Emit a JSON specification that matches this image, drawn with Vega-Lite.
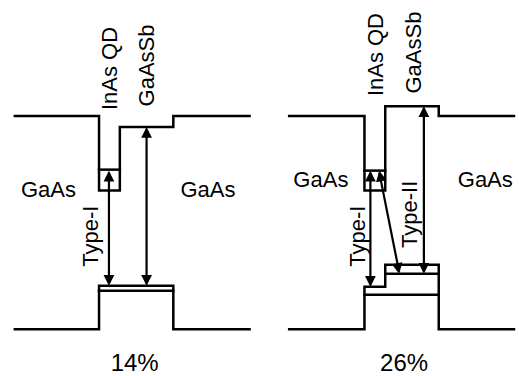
{
  "$schema": "https://vega.github.io/schema/vega-lite/v6.json",
  "width": 519,
  "height": 376,
  "padding": 0,
  "autosize": {"type": "fit", "contains": "padding"},
  "background": "white",
  "config": {"view": {"stroke": null}},
  "datasets": {
    "bands": [
      {"path": "L_CB", "i": 1, "x": 15, "y": 117}, {"path": "L_CB", "i": 2, "x": 100, "y": 117}, {"path": "L_CB", "i": 3, "x": 100, "y": 192}, {"path": "L_CB", "i": 4, "x": 121, "y": 192}, {"path": "L_CB", "i": 5, "x": 121, "y": 128}, {"path": "L_CB", "i": 6, "x": 175, "y": 128}, {"path": "L_CB", "i": 7, "x": 175, "y": 117}, {"path": "L_CB", "i": 8, "x": 252, "y": 117},
      {"path": "L_QD", "i": 1, "x": 100, "y": 171}, {"path": "L_QD", "i": 2, "x": 121, "y": 171},
      {"path": "L_VB", "i": 1, "x": 15, "y": 332}, {"path": "L_VB", "i": 2, "x": 100, "y": 332}, {"path": "L_VB", "i": 3, "x": 100, "y": 288}, {"path": "L_VB", "i": 4, "x": 175, "y": 288}, {"path": "L_VB", "i": 5, "x": 175, "y": 332}, {"path": "L_VB", "i": 6, "x": 252, "y": 332},
      {"path": "L_H", "i": 1, "x": 100, "y": 293}, {"path": "L_H", "i": 2, "x": 175, "y": 293},
      {"path": "R_CB", "i": 1, "x": 292, "y": 117}, {"path": "R_CB", "i": 2, "x": 368, "y": 117}, {"path": "R_CB", "i": 3, "x": 368, "y": 192}, {"path": "R_CB", "i": 4, "x": 389, "y": 192}, {"path": "R_CB", "i": 5, "x": 389, "y": 107}, {"path": "R_CB", "i": 6, "x": 443, "y": 107}, {"path": "R_CB", "i": 7, "x": 443, "y": 117}, {"path": "R_CB", "i": 8, "x": 519, "y": 117},
      {"path": "R_QD", "i": 1, "x": 368, "y": 172}, {"path": "R_QD", "i": 2, "x": 389, "y": 172},
      {"path": "R_VB", "i": 1, "x": 292, "y": 332}, {"path": "R_VB", "i": 2, "x": 368, "y": 332}, {"path": "R_VB", "i": 3, "x": 368, "y": 289}, {"path": "R_VB", "i": 4, "x": 389, "y": 289}, {"path": "R_VB", "i": 5, "x": 389, "y": 267}, {"path": "R_VB", "i": 6, "x": 443, "y": 267}, {"path": "R_VB", "i": 7, "x": 443, "y": 332}, {"path": "R_VB", "i": 8, "x": 519, "y": 332},
      {"path": "R_H1", "i": 1, "x": 389, "y": 276}, {"path": "R_H1", "i": 2, "x": 443, "y": 276},
      {"path": "R_H2", "i": 1, "x": 368, "y": 297}, {"path": "R_H2", "i": 2, "x": 443, "y": 297}
    ],
    "arrows": [
      {"id": "A1", "x": 110, "y": 174, "x2": 110, "y2": 286},
      {"id": "A2", "x": 148, "y": 130, "x2": 148, "y2": 286},
      {"id": "A3", "x": 374, "y": 174, "x2": 374, "y2": 287},
      {"id": "A4", "x": 383, "y": 174, "x2": 403, "y2": 274},
      {"id": "A5", "x": 428, "y": 109, "x2": 428, "y2": 274}
    ],
    "heads": [
      {"x": 110, "y": 172, "dir": "up"}, {"x": 110, "y": 288, "dir": "down"},
      {"x": 148, "y": 128, "dir": "up"}, {"x": 148, "y": 288, "dir": "down"},
      {"x": 374, "y": 172, "dir": "up"}, {"x": 374, "y": 289, "dir": "down"},
      {"x": 383, "y": 172, "dir": "diag-up"}, {"x": 403, "y": 276, "dir": "diag-down"},
      {"x": 428, "y": 107, "dir": "up"}, {"x": 428, "y": 276, "dir": "down"}
    ],
    "hlabels": [
      {"text": "GaAs", "x": 49, "y": 199},
      {"text": "GaAs", "x": 210, "y": 199},
      {"text": "GaAs", "x": 324, "y": 188},
      {"text": "GaAs", "x": 490, "y": 188}
    ],
    "pct": [
      {"text": "14%", "x": 136, "y": 374},
      {"text": "26%", "x": 408, "y": 374}
    ],
    "vlabels": [
      {"text": "InAs QD", "x": 111, "y": 69},
      {"text": "GaAsSb", "x": 148, "y": 66},
      {"text": "Type-I", "x": 92, "y": 238},
      {"text": "InAs QD", "x": 380, "y": 55},
      {"text": "GaAsSb", "x": 418, "y": 53},
      {"text": "Type-I", "x": 361, "y": 238},
      {"text": "Type-II", "x": 414, "y": 216}
    ]
  },
  "layer": [
    {
      "data": {"name": "bands"},
      "mark": {"type": "line", "color": "black", "strokeWidth": 2.5, "strokeJoin": "miter", "strokeCap": "square"},
      "encoding": {
        "x": {"field": "x", "type": "quantitative", "scale": {"domain": [0, 519], "nice": false, "zero": false}, "axis": null},
        "y": {"field": "y", "type": "quantitative", "scale": {"domain": [0, 376], "reverse": true, "nice": false, "zero": false}, "axis": null},
        "detail": {"field": "path", "type": "nominal"},
        "order": {"field": "i", "type": "quantitative"}
      }
    },
    {
      "data": {"name": "arrows"},
      "mark": {"type": "rule", "color": "black", "strokeWidth": 2.2},
      "encoding": {
        "x": {"field": "x", "type": "quantitative"},
        "y": {"field": "y", "type": "quantitative"},
        "x2": {"field": "x2"},
        "y2": {"field": "y2"}
      }
    },
    {
      "data": {"name": "heads"},
      "transform": [{"filter": "datum.dir === 'up'"}],
      "mark": {"type": "point", "shape": "M0,0L0.9,1.8L-0.9,1.8Z", "filled": true, "color": "black", "opacity": 1, "size": 144, "strokeWidth": 0, "angle": 0},
      "encoding": {
        "x": {"field": "x", "type": "quantitative"},
        "y": {"field": "y", "type": "quantitative"}
      }
    },
    {
      "data": {"name": "heads"},
      "transform": [{"filter": "datum.dir === 'down'"}],
      "mark": {"type": "point", "shape": "M0,0L0.9,1.8L-0.9,1.8Z", "filled": true, "color": "black", "opacity": 1, "size": 144, "strokeWidth": 0, "angle": 180},
      "encoding": {
        "x": {"field": "x", "type": "quantitative"},
        "y": {"field": "y", "type": "quantitative"}
      }
    },
    {
      "data": {"name": "heads"},
      "transform": [{"filter": "datum.dir === 'diag-up'"}],
      "mark": {"type": "point", "shape": "M0,0L0.9,1.8L-0.9,1.8Z", "filled": true, "color": "black", "opacity": 1, "size": 144, "strokeWidth": 0, "angle": 349},
      "encoding": {
        "x": {"field": "x", "type": "quantitative"},
        "y": {"field": "y", "type": "quantitative"}
      }
    },
    {
      "data": {"name": "heads"},
      "transform": [{"filter": "datum.dir === 'diag-down'"}],
      "mark": {"type": "point", "shape": "M0,0L0.9,1.8L-0.9,1.8Z", "filled": true, "color": "black", "opacity": 1, "size": 144, "strokeWidth": 0, "angle": 169},
      "encoding": {
        "x": {"field": "x", "type": "quantitative"},
        "y": {"field": "y", "type": "quantitative"}
      }
    },
    {
      "data": {"name": "hlabels"},
      "mark": {"type": "text", "font": "Liberation Sans", "fontSize": 22, "align": "center", "baseline": "alphabetic", "color": "black"},
      "encoding": {
        "x": {"field": "x", "type": "quantitative"},
        "y": {"field": "y", "type": "quantitative"},
        "text": {"field": "text"}
      }
    },
    {
      "data": {"name": "pct"},
      "mark": {"type": "text", "font": "Liberation Sans", "fontSize": 24, "align": "center", "baseline": "alphabetic", "color": "black"},
      "encoding": {
        "x": {"field": "x", "type": "quantitative"},
        "y": {"field": "y", "type": "quantitative"},
        "text": {"field": "text"}
      }
    },
    {
      "data": {"name": "vlabels"},
      "mark": {"type": "text", "font": "Liberation Sans", "fontSize": 22, "align": "center", "baseline": "middle", "angle": 270, "color": "black"},
      "encoding": {
        "x": {"field": "x", "type": "quantitative"},
        "y": {"field": "y", "type": "quantitative"},
        "text": {"field": "text"}
      }
    }
  ]
}
